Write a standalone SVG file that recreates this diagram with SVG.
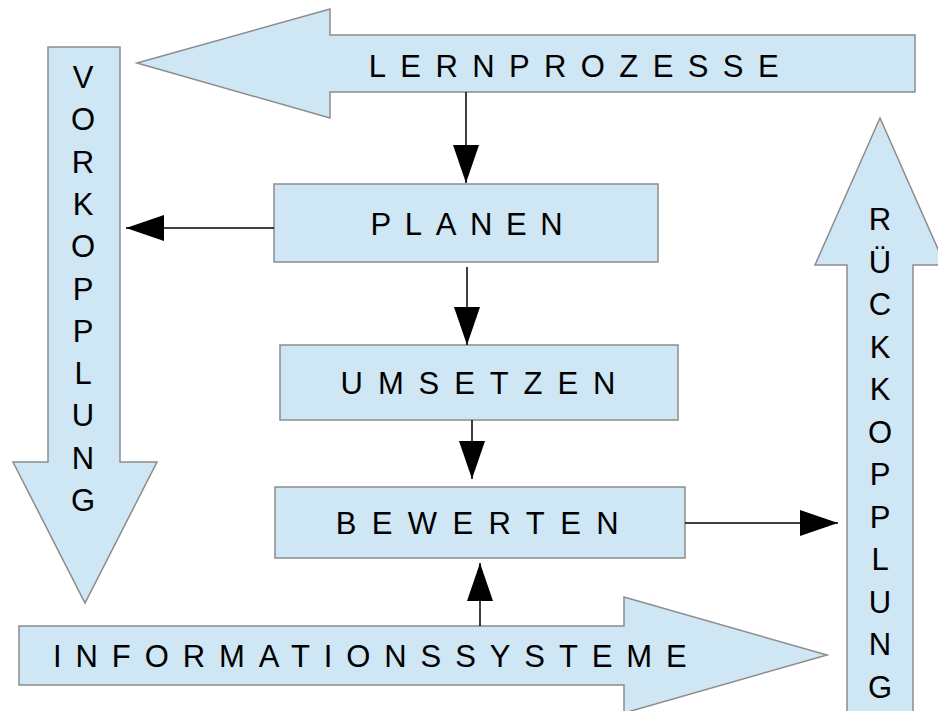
<svg xmlns="http://www.w3.org/2000/svg" width="938" height="711" viewBox="0 0 938 711">
<style>
.shape{fill:#cfe6f4;stroke:#8c8c8c;stroke-width:1.5}
.t{font-family:"Liberation Sans",Arial,sans-serif;font-size:31px;fill:#000}
.v{text-anchor:middle}
.c{stroke:#000;stroke-width:1.5;fill:none;marker-end:url(#ah)}
</style>
<defs>
<marker id="ah" viewBox="0 0 38 26" refX="38" refY="13" markerWidth="38" markerHeight="26" markerUnits="userSpaceOnUse" orient="auto">
<path d="M0,0 L38,13 L0,26 Z" fill="#000"/>
</marker>
</defs>
<rect width="938" height="711" fill="#fff"/>
<g id="lernprozesse">
<polygon class="shape" points="137,63 330,9 330,35 915,35 915,92 330,92 330,118"/>
<text class="t" x="368.7" y="77" letter-spacing="14.4">LERNPROZESSE</text>
</g>
<g id="vorkopplung">
<polygon class="shape" points="48,47 120,47 120,462 157,462 85,603 13,462 48,462"/>
<text class="t v" y="88"><tspan x="83">V</tspan><tspan x="83" dy="42.3">O</tspan><tspan x="83" dy="42.3">R</tspan><tspan x="83" dy="42.3">K</tspan><tspan x="83" dy="42.3">O</tspan><tspan x="83" dy="42.3">P</tspan><tspan x="83" dy="42.3">P</tspan><tspan x="83" dy="42.3">L</tspan><tspan x="83" dy="42.3">U</tspan><tspan x="83" dy="42.3">N</tspan><tspan x="83" dy="42.3">G</tspan></text>
</g>
<g id="rueckkopplung">
<polygon class="shape" points="880,118 945,265 913,265 913,720 847,720 847,265 815,265"/>
<text class="t v" y="230"><tspan x="880">R</tspan><tspan x="880" dy="42.5">Ü</tspan><tspan x="880" dy="42.5">C</tspan><tspan x="880" dy="42.5">K</tspan><tspan x="880" dy="42.5">K</tspan><tspan x="880" dy="42.5">O</tspan><tspan x="880" dy="42.5">P</tspan><tspan x="880" dy="42.5">P</tspan><tspan x="880" dy="42.5">L</tspan><tspan x="880" dy="42.5">U</tspan><tspan x="880" dy="42.5">N</tspan><tspan x="880" dy="42.5">G</tspan></text>
</g>
<g id="informationssysteme">
<polygon class="shape" points="19,626 624,626 624,597 827,655 624,713 624,685 19,685"/>
<text class="t" x="53" y="667" letter-spacing="13.9">INFORMATIONSSYSTEME</text>
</g>
<g id="planen">
<rect class="shape" x="274" y="184" width="384" height="78"/>
<text class="t" x="370.6" y="235" letter-spacing="13.6">PLANEN</text>
</g>
<g id="umsetzen">
<rect class="shape" x="280" y="345" width="398" height="75"/>
<text class="t" x="340.6" y="394" letter-spacing="14.9">UMSETZEN</text>
</g>
<g id="bewerten">
<rect class="shape" x="275" y="487" width="410" height="71"/>
<text class="t" x="335.7" y="534" letter-spacing="15.4">BEWERTEN</text>
</g>
<g id="connectors">
<line class="c" x1="466" y1="92" x2="466" y2="183"/>
<line class="c" x1="274" y1="228" x2="126" y2="228"/>
<line class="c" x1="467" y1="267" x2="467" y2="345"/>
<line class="c" x1="472" y1="420" x2="472" y2="479"/>
<line class="c" x1="685" y1="523" x2="838" y2="523"/>
<line class="c" x1="480" y1="626" x2="480" y2="563"/>
</g>
</svg>
